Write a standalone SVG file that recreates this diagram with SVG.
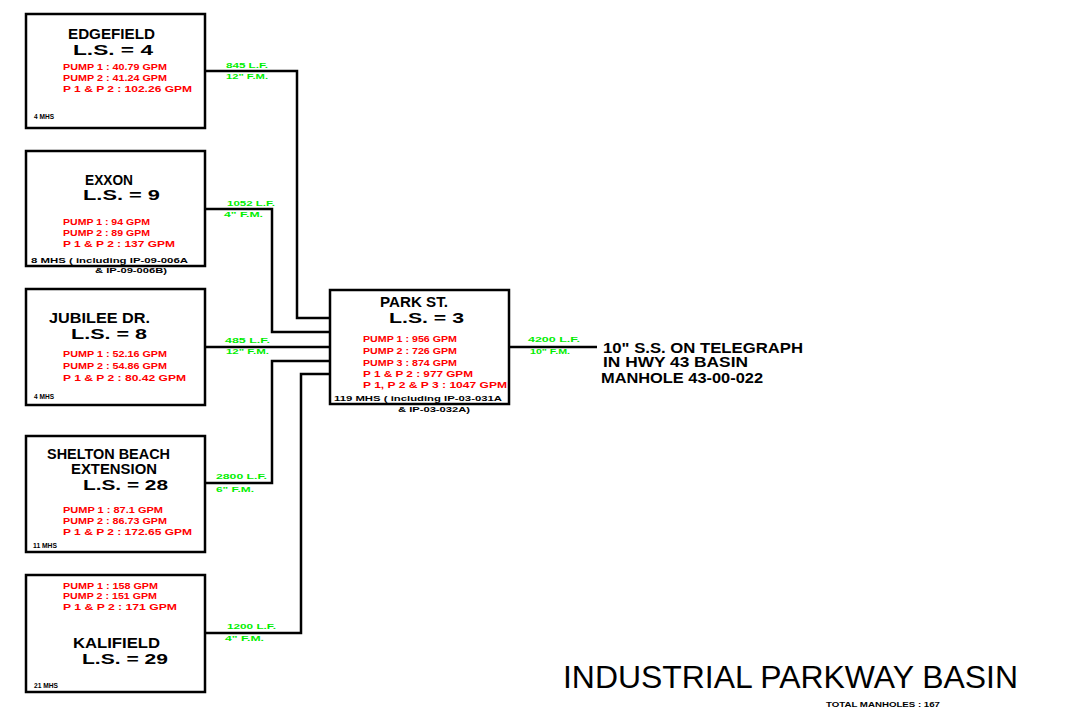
<svg xmlns="http://www.w3.org/2000/svg" width="1078" height="719" viewBox="0 0 1078 719">
<style>
.box{fill:#fff;stroke:#000;stroke-width:2.5}
.wire{fill:none;stroke:#000;stroke-width:2.5}
.hd{font-family:"Liberation Sans",Arial,sans-serif;font-weight:bold;font-size:14px;fill:#000}
.rd{font-family:"Liberation Sans",Arial,sans-serif;font-weight:bold;font-size:8.5px;fill:#ff0000}
.sm{font-family:"Liberation Sans",Arial,sans-serif;font-weight:bold;font-size:7.5px;fill:#000}
.gr{font-family:"Liberation Sans",Arial,sans-serif;font-weight:bold;font-size:8px;fill:#00ee00}
.out{font-family:"Liberation Sans",Arial,sans-serif;font-weight:bold;font-size:14px;fill:#000}
.title{font-family:"Liberation Sans",Arial,sans-serif;font-size:31px;fill:#000}
</style>
<rect width="1078" height="719" fill="#fff"/>
<g id="connectors">
<path class="wire" d="M205,71 H297 V318 H330"/>
<path class="wire" d="M205,209 H272 V332 H330"/>
<path class="wire" d="M205,347 H330"/>
<path class="wire" d="M205,483 H272 V361 H330"/>
<path class="wire" d="M205,633 H301 V374 H330"/>
<path class="wire" d="M509,347 H597"/>
<text class="gr" x="226" y="68" textLength="42" lengthAdjust="spacingAndGlyphs">845 L.F.</text>
<text class="gr" x="226" y="79" textLength="42" lengthAdjust="spacingAndGlyphs">12" F.M.</text>
<text class="gr" x="227" y="206" textLength="48" lengthAdjust="spacingAndGlyphs">1052 L.F.</text>
<text class="gr" x="224" y="217" textLength="39" lengthAdjust="spacingAndGlyphs">4" F.M.</text>
<text class="gr" x="225" y="343" textLength="45" lengthAdjust="spacingAndGlyphs">485 L.F.</text>
<text class="gr" x="226" y="354" textLength="43" lengthAdjust="spacingAndGlyphs">12" F.M.</text>
<text class="gr" x="216" y="479" textLength="51" lengthAdjust="spacingAndGlyphs">2800 L.F.</text>
<text class="gr" x="216" y="492" textLength="38" lengthAdjust="spacingAndGlyphs">6" F.M.</text>
<text class="gr" x="227" y="629" textLength="49" lengthAdjust="spacingAndGlyphs">1200 L.F.</text>
<text class="gr" x="225" y="641" textLength="39" lengthAdjust="spacingAndGlyphs">4" F.M.</text>
<text class="gr" x="528" y="342" textLength="52" lengthAdjust="spacingAndGlyphs">4200 L.F.</text>
<text class="gr" x="530" y="354" textLength="40" lengthAdjust="spacingAndGlyphs">10" F.M.</text>
</g>
<g id="edgefield">
<rect class="box" x="26" y="14" width="179" height="114"/>
<text class="hd" x="68" y="39" textLength="87" lengthAdjust="spacingAndGlyphs">EDGEFIELD</text>
<text class="hd" x="73" y="55" textLength="80" lengthAdjust="spacingAndGlyphs">L.S.  =  4</text>
<text class="rd" x="63" y="70" textLength="104" lengthAdjust="spacingAndGlyphs">PUMP 1 : 40.79 GPM</text>
<text class="rd" x="63" y="81" textLength="104" lengthAdjust="spacingAndGlyphs">PUMP 2 : 41.24 GPM</text>
<text class="rd" x="63" y="92" textLength="129" lengthAdjust="spacingAndGlyphs">P 1 &amp; P 2 : 102.26 GPM</text>
<text class="sm" x="34" y="119" textLength="20" lengthAdjust="spacingAndGlyphs">4 MHS</text>
</g>
<g id="exxon">
<rect class="box" x="26" y="151" width="179" height="115"/>
<text class="hd" x="85" y="185" textLength="48" lengthAdjust="spacingAndGlyphs">EXXON</text>
<text class="hd" x="83" y="200" textLength="77" lengthAdjust="spacingAndGlyphs">L.S.  =  9</text>
<text class="rd" x="63" y="225" textLength="87" lengthAdjust="spacingAndGlyphs">PUMP 1 : 94 GPM</text>
<text class="rd" x="63" y="236" textLength="87" lengthAdjust="spacingAndGlyphs">PUMP 2 : 89 GPM</text>
<text class="rd" x="63" y="247" textLength="112" lengthAdjust="spacingAndGlyphs">P 1 &amp; P 2 : 137 GPM</text>
<text class="sm" x="31" y="263" textLength="157" lengthAdjust="spacingAndGlyphs">8 MHS ( including IP-09-006A</text>
<text class="sm" x="95" y="273" textLength="72" lengthAdjust="spacingAndGlyphs">&amp; IP-09-006B)</text>
</g>
<g id="jubilee">
<rect class="box" x="26" y="289" width="179" height="116"/>
<text class="hd" x="49" y="323" textLength="101" lengthAdjust="spacingAndGlyphs">JUBILEE DR.</text>
<text class="hd" x="71" y="339" textLength="76" lengthAdjust="spacingAndGlyphs">L.S.  =  8</text>
<text class="rd" x="63" y="357" textLength="104" lengthAdjust="spacingAndGlyphs">PUMP 1 : 52.16 GPM</text>
<text class="rd" x="63" y="369" textLength="104" lengthAdjust="spacingAndGlyphs">PUMP 2 : 54.86 GPM</text>
<text class="rd" x="63" y="381" textLength="123" lengthAdjust="spacingAndGlyphs">P 1 &amp; P 2 : 80.42 GPM</text>
<text class="sm" x="34" y="399" textLength="20" lengthAdjust="spacingAndGlyphs">4 MHS</text>
</g>
<g id="shelton">
<rect class="box" x="26" y="436" width="179" height="116"/>
<text class="hd" x="47" y="459" textLength="123" lengthAdjust="spacingAndGlyphs">SHELTON BEACH</text>
<text class="hd" x="71" y="474" textLength="86" lengthAdjust="spacingAndGlyphs">EXTENSION</text>
<text class="hd" x="83" y="490" textLength="85" lengthAdjust="spacingAndGlyphs">L.S.  =  28</text>
<text class="rd" x="63" y="513" textLength="100" lengthAdjust="spacingAndGlyphs">PUMP 1 : 87.1 GPM</text>
<text class="rd" x="63" y="524" textLength="104" lengthAdjust="spacingAndGlyphs">PUMP 2 : 86.73 GPM</text>
<text class="rd" x="63" y="535" textLength="129" lengthAdjust="spacingAndGlyphs">P 1 &amp; P 2 : 172.65 GPM</text>
<text class="sm" x="33" y="548" textLength="24" lengthAdjust="spacingAndGlyphs">11 MHS</text>
</g>
<g id="kalifield">
<rect class="box" x="26" y="575" width="179" height="117"/>
<text class="rd" x="63" y="589" textLength="95" lengthAdjust="spacingAndGlyphs">PUMP 1 : 158 GPM</text>
<text class="rd" x="63" y="599" textLength="94" lengthAdjust="spacingAndGlyphs">PUMP 2 : 151 GPM</text>
<text class="rd" x="63" y="610" textLength="114" lengthAdjust="spacingAndGlyphs">P 1 &amp; P 2 : 171 GPM</text>
<text class="hd" x="73" y="648" textLength="87" lengthAdjust="spacingAndGlyphs">KALIFIELD</text>
<text class="hd" x="82" y="664" textLength="86" lengthAdjust="spacingAndGlyphs">L.S.  =  29</text>
<text class="sm" x="34" y="688" textLength="24" lengthAdjust="spacingAndGlyphs">21 MHS</text>
</g>
<g id="parkst">
<rect class="box" x="330" y="290" width="179" height="114"/>
<text class="hd" x="380" y="307" textLength="68" lengthAdjust="spacingAndGlyphs">PARK ST.</text>
<text class="hd" x="389" y="323" textLength="75" lengthAdjust="spacingAndGlyphs">L.S.  =  3</text>
<text class="rd" x="363" y="342" textLength="94" lengthAdjust="spacingAndGlyphs">PUMP 1 : 956 GPM</text>
<text class="rd" x="363" y="354" textLength="94" lengthAdjust="spacingAndGlyphs">PUMP 2 : 726 GPM</text>
<text class="rd" x="363" y="366" textLength="94" lengthAdjust="spacingAndGlyphs">PUMP 3 : 874 GPM</text>
<text class="rd" x="363" y="377" textLength="110" lengthAdjust="spacingAndGlyphs">P 1 &amp; P 2 : 977 GPM</text>
<text class="rd" x="363" y="388" textLength="144" lengthAdjust="spacingAndGlyphs">P 1, P 2 &amp; P 3 : 1047 GPM</text>
<text class="sm" x="334" y="401" textLength="168" lengthAdjust="spacingAndGlyphs">119 MHS ( including IP-03-031A</text>
<text class="sm" x="398" y="412" textLength="72" lengthAdjust="spacingAndGlyphs">&amp; IP-03-032A)</text>
</g>
<g id="outlet">
<text class="out" x="603" y="353" textLength="200" lengthAdjust="spacingAndGlyphs">10" S.S.  ON TELEGRAPH</text>
<text class="out" x="603" y="367" textLength="145" lengthAdjust="spacingAndGlyphs">IN HWY 43 BASIN</text>
<text class="out" x="601" y="383" textLength="162" lengthAdjust="spacingAndGlyphs">MANHOLE 43-00-022</text>
</g>
<g id="title">
<text class="title" x="563" y="688" textLength="455" lengthAdjust="spacingAndGlyphs">INDUSTRIAL PARKWAY BASIN</text>
<text class="sm" x="826" y="707" textLength="114" lengthAdjust="spacingAndGlyphs">TOTAL MANHOLES : 167</text>
</g>
</svg>
